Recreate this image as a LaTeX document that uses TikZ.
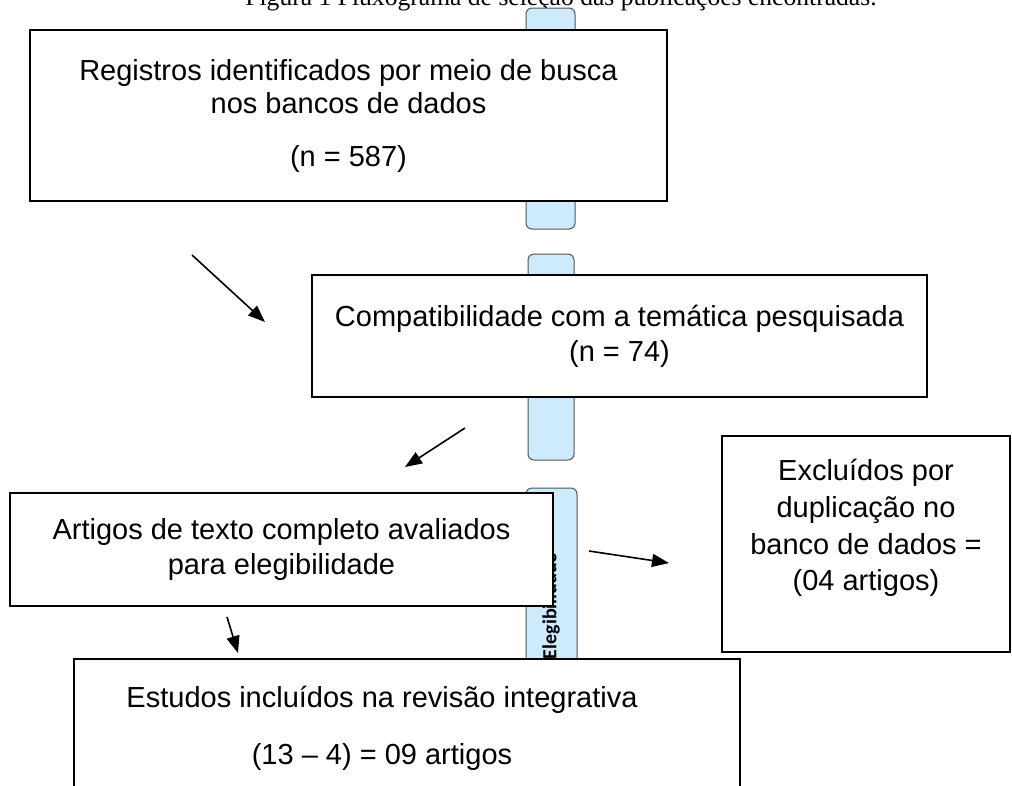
\documentclass[tikz,border=0pt]{standalone}
\usepackage{fontspec}
\setmainfont{Liberation Sans}
\newfontfamily\captionfont{Liberation Serif}
\newfontfamily\sidefont{Carlito}
\usetikzlibrary{arrows.meta, positioning}
\definecolor{tabblue}{RGB}{205,235,253}
\definecolor{tabgray}{RGB}{85,85,85}

\begin{document}
\begin{tikzpicture}[x=1pt, y=-1pt, >={Triangle[length=17pt,width=13pt]},
      box/.style={draw, fill=white, line width=1.3pt, align=center, inner sep=0pt,
        font=\fontsize{29}{33}\selectfont},
      boxtext/.style={align=center, inner sep=0pt, font=\fontsize{29}{33}\selectfont},
      tab/.style={draw=tabgray, fill=tabblue, line width=1pt, rounded corners=6pt, inner sep=0pt},
      arr/.style={->, line width=1.6pt}]
      \useasboundingbox (0,0) rectangle (1012,785);
      \clip (0,0) rectangle (1012,785);
      \node[font=\captionfont\fontsize{25.6}{30}\selectfont, anchor=base] (caption) at (561,5)
        {Figura 1 Fluxograma de seleção das publicações encontradas.};
      % side labels behind the boxes
      \node[tab, minimum width=49pt, minimum height=221pt] (ident) at (550.5,118.5) {};
      \node[tab, minimum width=46pt, minimum height=206pt] (triag) at (551,357) {};
      \node[tab, minimum width=51pt, minimum height=282pt] (eleg) at (551.5,629) {};
      \node[rotate=90, font=\sidefont\bfseries\fontsize{20}{24}\selectfont] (elegtxt) at (551,606) {Elegibilidade};
      % boxes
      \node[box, minimum width=637pt, minimum height=171pt] (registros) at (348.5,115.5)
        {Registros identificados por meio de busca\\nos bancos de dados\\[20pt](n = 587)};
      \node[box, minimum width=615pt, minimum height=122pt] (compat) at (619.5,336)
        {Compatibilidade com a temática pesquisada\\[2pt](n = 74)};
      \node[box, minimum width=543pt, minimum height=113pt] (artigos) at (281.5,549.5)
        {Artigos de texto completo avaliados\\[2pt]para elegibilidade};
      \node[box, minimum width=288pt, minimum height=216pt] (excluidos) at (866,544) {};
      \node[boxtext] (excltxt) at (866,528)
        {Excluídos por\\[3.7pt]duplicação no\\[3.7pt]banco de dados =\\[3.7pt](04 artigos)};
      \node[box, minimum width=666pt, minimum height=160pt] (estudos) at (407,739) {};
      \node[boxtext] (estudostxt) at (382,728.5)
        {Estudos incluídos na revisão integrativa\\[24pt](13 -- 4) = 09 artigos};
      % arrows
      \coordinate (a1) at (192,255);
      \coordinate (b1) at (265,322);
      \coordinate (a2) at (465,428);
      \coordinate (b2) at (405,467);
      \coordinate (a3) at (589,551);
      \coordinate (b3) at (669,563);
      \coordinate (a4) at (227,617);
      \coordinate (b4) at (238,653);
      \draw[arr] (a1) -- (b1);
      \draw[arr] (a2) -- (b2);
      \draw[arr] (a3) -- (b3);
      \draw[arr] (a4) -- (b4);
\end{tikzpicture}
\end{document}
